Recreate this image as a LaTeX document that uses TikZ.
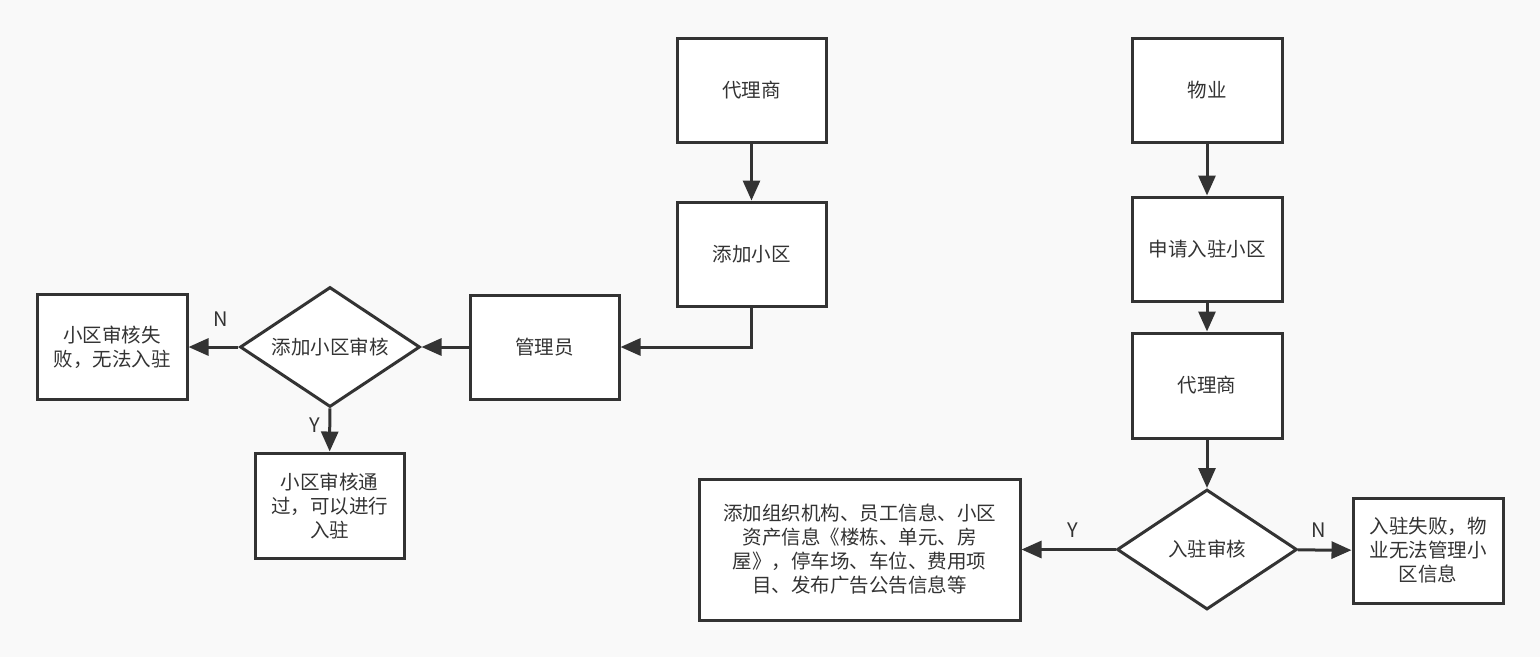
\documentclass[tikz,border=0pt]{standalone}
\usepackage{fontspec}
\setmainfont{Noto Sans CJK SC}
\usetikzlibrary{shapes.geometric,arrows.meta}
\definecolor{ink}{HTML}{333333}
\definecolor{bg}{HTML}{F9F9F9}
\begin{document}
\begin{tikzpicture}[x=1pt,y=-1pt,
  every node/.style={font=\fontsize{19.5}{24}\selectfont, text=ink},
  box/.style={draw=ink, line width=3pt, fill=white, minimum width=#1, minimum height=104pt, inner sep=0pt, align=center},
  box/.default=149pt,
  dia/.style={draw=ink, line width=3pt, fill=white, diamond, minimum width=180pt, minimum height=120pt, inner sep=0pt},
  conn/.style={draw=ink, line width=3pt, -{Triangle[length=20pt,width=17pt]}},
  lbl/.style={font=\fontsize{20}{22}\selectfont, inner sep=0pt}]
\fill[bg] (0,0) rectangle (1540,657);
\useasboundingbox (0,0) rectangle (1540,657);
% left flow
\node[box] (agent1) at (751.5,90) {代理商};
\node[box] (addc) at (751.5,254) {添加小区};
\node[box] (admin) at (544.5,347) {管理员};
\node[dia] (chk1) at (330,347) {\makebox[0pt]{添加小区审核}};
\node[box=150pt, minimum height=105pt] (fail1) at (112,347) {小区审核失\\败，无法入驻};
\node[box, minimum height=105pt] (pass1) at (329.5,505.5) {小区审核通\\过，可以进行\\入驻};
% right flow
\node[box=150pt] (prop) at (1207,90) {物业};
\node[box=150pt] (apply) at (1207,249) {申请入驻小区};
\node[box=150pt, minimum height=105pt] (agent2) at (1207,385.5) {代理商};
\node[dia] (chk2) at (1207,549.5) {\makebox[0pt]{入驻审核}};
\node[box=321pt, minimum height=141pt] (info) at (859.5,549.5) {添加组织机构、员工信息、小区\\资产信息《楼栋、单元、房\\屋》，停车场、车位、费用项\\目、发布广告公告信息等};
\node[box=150pt, minimum height=105pt] (fail2) at (1428,550.5) {入驻失败，物\\业无法管理小\\区信息};
% connectors
\draw[conn] (agent1) -- (addc);
\draw[conn] (addc.south) |- (admin.east);
\draw[conn] (admin) -- (chk1);
\draw[conn] (chk1) -- (fail1);
\draw[conn] (chk1) -- (pass1);
\draw[conn] (prop) -- (apply);
\draw[conn] (apply) -- (agent2);
\draw[conn] (agent2) -- (chk2);
\draw[conn] (chk2) -- (info);
\draw[conn] (chk2) -- (fail2);
% connector labels
\node[lbl] (n1) at (220.5,319) {N};
\node[lbl] (y1) at (315,425.5) {Y};
\node[lbl] (y2) at (1073,530.5) {Y};
\node[lbl] (n2) at (1318.5,530.5) {N};
\end{tikzpicture}
\end{document}
